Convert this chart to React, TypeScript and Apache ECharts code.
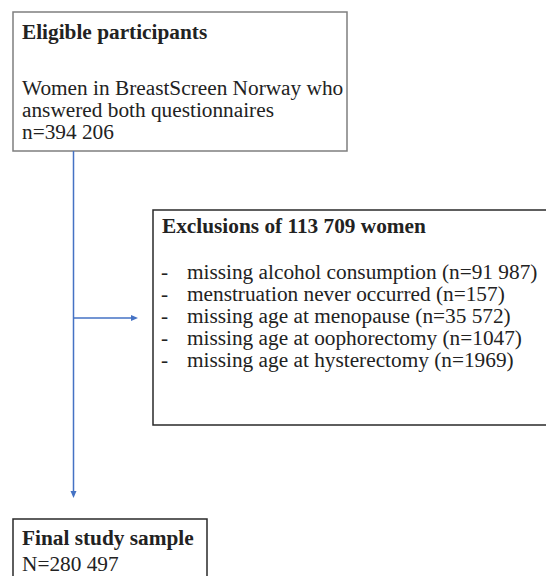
import React, { useEffect, useRef } from "react";
import * as echarts from "echarts";

const topTitle = "Eligible participants";
const topLines = ["Women in BreastScreen Norway who", "answered both questionnaires", "n=394 206"];
const exclusionTitle = "Exclusions of 113 709 women";
const exclusionReasons = [
  "missing alcohol consumption",
  "menstruation never occurred",
  "missing age at menopause",
  "missing age at oophorectomy",
  "missing age at hysterectomy",
];
const exclusionCounts = ["91 987", "157", "35 572", "1047", "1969"];
const finalTitle = "Final study sample";
const finalCount = "N=280 497";

const FONT = '"Liberation Serif", "Times New Roman", serif';
const TEXT_COLOR = "#222222";
const ARROW = "#4472C4";
const FS = 21.3;

export default function App() {
  const ref = useRef<HTMLDivElement>(null);
  useEffect(() => {
    if (!ref.current) return;
    const chart = echarts.init(ref.current, null, { renderer: "svg" });
    const txt = (x: number, y: number, text: string, bold = false, size = FS) => ({
      type: "text",
      x,
      y,
      style: {
        text,
        fill: TEXT_COLOR,
        font: `${bold ? "bold " : ""}${size}px ${FONT}`,
        textVerticalAlign: "middle",
        textAlign: "left",
      },
    });
    const elements: any[] = [];
    // boxes
    elements.push({
      type: "rect",
      shape: { x: 13, y: 12, width: 334, height: 139 },
      style: { fill: "#fff", stroke: "#7f7f7f", lineWidth: 1.5 },
    });
    elements.push({
      type: "rect",
      shape: { x: 153, y: 210, width: 420, height: 215 },
      style: { fill: "#fff", stroke: "#2a2a2a", lineWidth: 1.5 },
    });
    elements.push({
      type: "rect",
      shape: { x: 13, y: 519, width: 194, height: 90 },
      style: { fill: "#fff", stroke: "#2a2a2a", lineWidth: 1.5 },
    });
    // connectors
    elements.push({
      type: "line",
      shape: { x1: 73.5, y1: 151, x2: 73.5, y2: 492 },
      style: { stroke: ARROW, lineWidth: 1.5 },
    });
    elements.push({
      type: "polygon",
      shape: { points: [[70.5, 491], [76.5, 491], [73.5, 498]] },
      style: { fill: ARROW },
    });
    elements.push({
      type: "line",
      shape: { x1: 73.5, y1: 318, x2: 132, y2: 318 },
      style: { stroke: ARROW, lineWidth: 1.5 },
    });
    elements.push({
      type: "polygon",
      shape: { points: [[131, 315], [131, 321], [138, 318]] },
      style: { fill: ARROW },
    });
    // texts
    elements.push(txt(22, 32, topTitle, true));
    topLines.forEach((l, i) => elements.push(txt(22, 88 + i * 22, l)));
    elements.push(txt(162, 226, exclusionTitle, true));
    exclusionReasons.forEach((r, i) => {
      const y = 272 + i * 22;
      elements.push(txt(161, y, "-"));
      elements.push(txt(187, y, `${r} (n=${exclusionCounts[i]})`));
    });
    elements.push(txt(22, 538, finalTitle, true));
    elements.push(txt(22, 564, finalCount));

    chart.setOption({
      animation: false,
      backgroundColor: "#ffffff",
      graphic: { elements },
    });
    return () => chart.dispose();
  }, []);
  return (
    <div
      ref={ref}
      style={{ position: "fixed", left: 0, top: 0, width: 546, height: 576 }}
    />
  );
}
